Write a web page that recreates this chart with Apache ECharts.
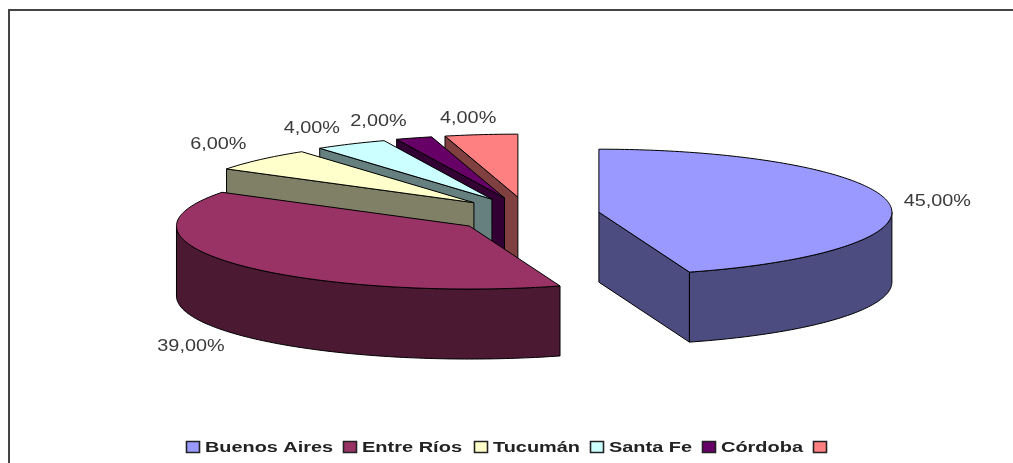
<!DOCTYPE html>
<html>
<head>
<meta charset="utf-8">
<style>html,body{margin:0;padding:0;background:#fff}#chart{width:1013px;height:463px}</style>
<script src="https://cdn.jsdelivr.net/npm/echarts@6/dist/echarts.min.js"></script>
</head>
<body>
<div id="chart"></div>
<script>
// Provinces and their shares, in percent. The last slice has no name in the legend.
const categories = ['Buenos Aires', 'Entre Ríos', 'Tucumán', 'Santa Fe', 'Córdoba', ''];
const shares = [45, 39, 6, 4, 2, 4];

// Excel-style palette: top face and darker side face.
const topColors = ['#9999FF', '#993366', '#FFFFCC', '#CCFFFF', '#660066', '#FF8080'];
const sideColors = ['#4C4C80', '#4C1933', '#808066', '#668080', '#330033', '#804040'];

// Projected pie geometry.
const pie = { cx: 527, cy: 215, rx: 293, ry: 63, depth: 70, explodeX: 72.8, explodeY: 18 };

// Label centre relative to the middle of each slice's rim.
const labelNudge = [[49, -0.5], [-47, 81.5], [-42, -14.5], [-39, -15.5], [-35.5, -16.5], [-13, -16]];

// Legend layout: left edge of each swatch and right edge of each text.
const legendLeft = [186, 343, 474, 590, 702, 813];
const legendTextEnd = [333, 462, 580, 692, 803, 0];

const TEXT_FONT = '"Liberation Sans", Arial, sans-serif';
const rad = d => d * Math.PI / 180;

// Cumulative start angle of each slice, clockwise from twelve o'clock.
const total = shares.reduce((a, b) => a + b, 0);
let running = 0;
const starts = shares.map(v => { const s = running; running += v / total * 360; return s; });

function rimPoint(ax, ay, deg) {
  return [ax + pie.rx * Math.sin(rad(deg)), ay - pie.ry * Math.cos(rad(deg))];
}
function arc(ax, ay, from, to) {
  const pts = [];
  const n = Math.max(2, Math.ceil(Math.abs(to - from)));
  for (let k = 0; k <= n; k++) pts.push(rimPoint(ax, ay, from + (to - from) * k / n));
  return pts;
}
const lineStyle = { stroke: '#000', lineWidth: 1, lineJoin: 'round' };
function face(points, fill) {
  return { type: 'polygon', shape: { points }, style: Object.assign({ fill }, lineStyle) };
}
// A radial wall shows only when the slice body lies above its edge on screen.
function wallFacesViewer(ax, ay, p, rim) {
  const ex = p[0] - ax, ey = p[1] - ay;
  const mx = rim[0] - ax, my = rim[1] - ay;
  const side = ex * my - ey * mx;
  const normalY = side > 0 ? -ex : ex;
  return normalY > 1e-6;
}
function sliceFaces(i, value, start) {
  const end = start + value / total * 360;
  const mid = (start + end) / 2;
  const ax = pie.cx + pie.explodeX * Math.sin(rad(mid));
  const ay = pie.cy - pie.explodeY * Math.cos(rad(mid));
  const d = pie.depth;
  const down = p => [p[0], p[1] + d];
  const rim = rimPoint(ax, ay, mid);
  const out = [];
  // Radial side walls, then the curved outer wall where it faces the viewer.
  [start, end].forEach(deg => {
    const p = rimPoint(ax, ay, deg);
    if (wallFacesViewer(ax, ay, p, rim)) {
      out.push(face([[ax, ay], p, down(p), [ax, ay + d]], sideColors[i]));
    }
  });
  const wFrom = Math.max(start, 90), wTo = Math.min(end, 270);
  if (wTo > wFrom) {
    const a = arc(ax, ay, wFrom, wTo);
    out.push(face(a.concat(a.map(down).reverse()), sideColors[i]));
  }
  // Top face and percentage label.
  out.push(face([[ax, ay]].concat(arc(ax, ay, start, end)), topColors[i]));
  out.push({
    type: 'text',
    x: rim[0] + labelNudge[i][0],
    y: rim[1] + labelNudge[i][1],
    scaleX: 1.24,
    style: {
      text: value.toFixed(2).replace('.', ',') + '%',
      font: '16px ' + TEXT_FONT,
      fill: '#3a3a3a',
      textAlign: 'center',
      textVerticalAlign: 'middle'
    }
  });
  return out;
}

// Back slices first so the nearer ones paint over them.
const sliceData = shares.map((v, i) => [i, v, starts[i]]).reverse();
const legendData = categories.map((c, i) => [i]);

const option = {
  animation: false,
  backgroundColor: '#fff',
  graphic: [
    { type: 'polyline', silent: true,
      shape: { points: [[9, 463], [9, 10], [1013, 10]] },
      style: { stroke: '#444', lineWidth: 2, fill: null } }
  ],
  series: [
    {
      type: 'custom',
      coordinateSystem: 'none',
      silent: true,
      data: sliceData,
      renderItem: (params, api) => ({
        type: 'group',
        children: sliceFaces(api.value(0), api.value(1), api.value(2))
      })
    },
    {
      type: 'custom',
      coordinateSystem: 'none',
      silent: true,
      data: legendData,
      renderItem: (params, api) => {
        const i = api.value(0);
        const x = legendLeft[i];
        const children = [{
          type: 'rect',
          shape: { x: x + 0.5, y: 441.5, width: 13, height: 11 },
          style: { fill: topColors[i], stroke: '#222', lineWidth: 1.6 }
        }];
        if (categories[i]) {
          const tx = x + 19;
          const probe = echarts.format.getTextRect
            ? echarts.format.getTextRect(categories[i], 'bold 15px ' + TEXT_FONT).width
            : 0;
          children.push({
            type: 'text',
            x: tx,
            y: 448,
            scaleX: probe ? (legendTextEnd[i] - tx) / probe : 1.3,
            style: {
              text: categories[i],
              font: 'bold 15px ' + TEXT_FONT,
              fill: '#222',
              textAlign: 'left',
              textVerticalAlign: 'middle'
            }
          });
        }
        return { type: 'group', children };
      }
    }
  ]
};

echarts.init(document.getElementById('chart'), null, { renderer: 'canvas' }).setOption(option);
</script>
</body>
</html>
